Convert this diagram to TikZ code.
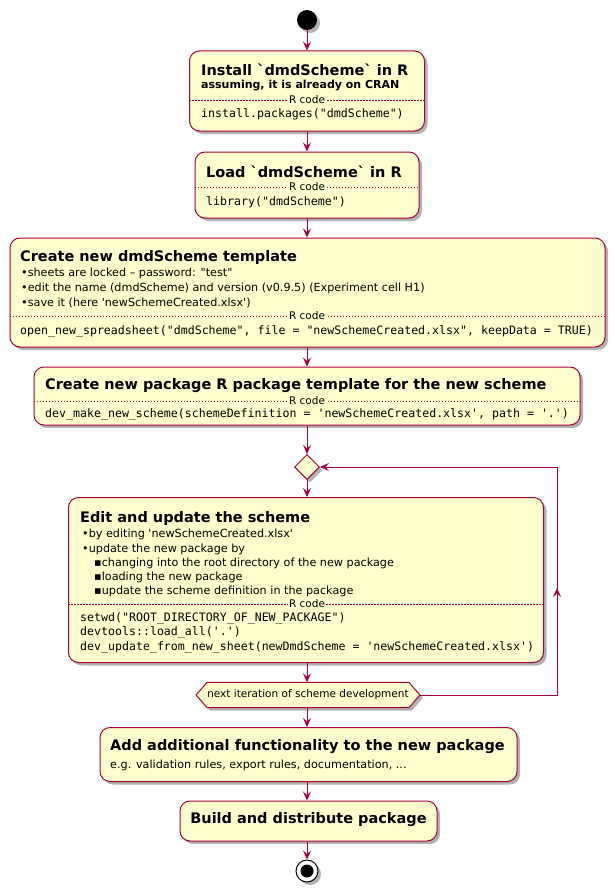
\documentclass[tikz,border=0pt]{standalone}
\usepackage{fontspec}
\setmainfont{DejaVu Sans}[Ligatures=TeXOff]
\setmonofont{DejaVu Sans Mono}
\usetikzlibrary{arrows.meta,shapes.geometric,shadows,calc}
\definecolor{pborder}{HTML}{A80036}
\definecolor{pfill}{HTML}{FEFECE}
\newcommand\ttlf{\fontsize{14.5}{16}\selectfont\bfseries}
\newcommand\subf{\fontsize{11}{13}\selectfont\bfseries}
\newcommand\bodyf{\fontsize{11.2}{13}\selectfont}
\newcommand\smallf{\fontsize{10.5}{12}\selectfont}
\newcommand\codef{\fontsize{11.6}{13}\selectfont\ttfamily}
\begin{document}
\begin{tikzpicture}[x=1pt,y=-1pt,
  shd/.style={drop shadow={shadow xshift=3pt,shadow yshift=-3pt,opacity=0.3,fill=black}},
  actbox/.style={draw=pborder,fill=pfill,line width=1pt,rounded corners=10pt,shd,inner sep=0pt},
  txt/.style={anchor=west,inner sep=0pt,text=black},
  sep/.style={draw=pborder,line width=0.5pt,dash pattern=on 1.5pt off 1.5pt},
  rlab/.style={fill=pfill,inner sep=1pt,font=\smallf},
  arr/.style={draw=pborder,line width=1pt,-{Stealth[length=9pt,width=8pt,inset=3.5pt]}},
  ln/.style={draw=pborder,line width=1pt}
]
\useasboundingbox (0,0) rectangle (615,891);
% start
\node[circle,fill=black,minimum size=20pt,inner sep=0pt,shd] (start) at (307,20) {};
% box 1
\node[actbox,minimum width=235pt,minimum height=80pt] (b1) at (307,91) {};
\node[txt] (t1) at (201,70) {\ttlf Install `dmdScheme` in R};
\node[txt] (s1) at (201,86) {\subf assuming, it is already on CRAN};
\draw[sep] (b1.west |- 0,100) -- (b1.east |- 0,100);
\node[rlab] (r1) at (307,100) {R code};
\node[txt] (c1) at (201,114) {\codef install.packages("dmdScheme")};
% box 2
\node[actbox,minimum width=224pt,minimum height=66pt] (b2) at (307,185) {};
\node[txt] (t2) at (206,172) {\ttlf Load `dmdScheme` in R};
\draw[sep] (b2.west |- 0,187) -- (b2.east |- 0,187);
\node[rlab] (r2) at (307,187) {R code};
\node[txt] (c2) at (206,202) {\codef library("dmdScheme")};
% box 3
\node[actbox,minimum width=595pt,minimum height=109pt] (b3) at (307.5,292.5) {};
\node[txt] (t3) at (20,257) {\ttlf Create new dmdScheme template};
\node[txt] (u31) at (21,273) {\bodyf •sheets are locked – password: "test"};
\node[txt] (u32) at (21,288) {\bodyf •edit the name (dmdScheme) and version (v0.9.5) (Experiment cell H1)};
\node[txt] (u33) at (21,303) {\bodyf •save it (here 'newSchemeCreated.xlsx')};
\draw[sep] (b3.west |- 0,316) -- (b3.east |- 0,316);
\node[rlab] (r3) at (307,316) {R code};
\node[txt] (c3) at (20,331) {\codef open\_new\_spreadsheet("dmdScheme", file = "newSchemeCreated.xlsx", keepData = TRUE)};
% box 4
\node[actbox,minimum width=546pt,minimum height=58pt] (b4) at (307,396) {};
\node[txt] (t4) at (45,386) {\ttlf Create new package R package template for the new scheme};
\draw[sep] (b4.west |- 0,401) -- (b4.east |- 0,401);
\node[rlab] (r4) at (307,401) {R code};
\node[txt] (c4) at (45,414) {\codef dev\_make\_new\_scheme(schemeDefinition = 'newSchemeCreated.xlsx', path = '.')};
% diamond
\node[diamond,draw=pborder,fill=pfill,line width=1pt,minimum size=25pt,inner sep=0pt,shd] (d) at (307,467) {};
% box 5
\node[actbox,minimum width=475pt,minimum height=165pt] (b5) at (306,580) {};
\node[txt] (t5) at (80,518) {\ttlf Edit and update the scheme};
\node[txt] (u51) at (82,534) {\bodyf •by editing 'newSchemeCreated.xlsx'};
\node[txt] (u52) at (82,549) {\bodyf •update the new package by};
\node[txt] (u53) at (94,563) {\bodyf ▪changing into the root directory of the new package};
\node[txt] (u54) at (94,577) {\bodyf ▪loading the new package};
\node[txt] (u55) at (94,591) {\bodyf ▪update the scheme definition in the package};
\draw[sep] (b5.west |- 0,604) -- (b5.east |- 0,604);
\node[rlab] (r5) at (307,604) {R code};
\node[txt] (c51) at (80,618) {\codef setwd("ROOT\_DIRECTORY\_OF\_NEW\_PACKAGE")};
\node[txt] (c52) at (80,632) {\codef devtools::load\_all('.')};
\node[txt] (c53) at (80,647) {\codef dev\_update\_from\_new\_sheet(newDmdScheme = 'newSchemeCreated.xlsx')};
% hexagon
\node[inner sep=0pt,minimum width=200pt,minimum height=25pt,font=\smallf] (h) at (308,695) {next iteration of scheme development};
\path[draw=pborder,fill=pfill,line width=1pt,shd] (h.north west) -- (h.north east) -- ($(h.east)+(11,0)$) -- (h.south east) -- (h.south west) -- ($(h.west)+(-11,0)$) -- cycle;
\node[inner sep=0pt,font=\smallf] at (h.center) {next iteration of scheme development};
% box 6
\node[actbox,minimum width=417pt,minimum height=54pt] (b6) at (308.5,754.5) {};
\node[txt] (t6) at (110,747) {\ttlf Add additional functionality to the new package};
\node[txt] (s6) at (110,765) {\bodyf e.g. validation rules, export rules, documentation, ...};
% box 7
\node[actbox,minimum width=257pt,minimum height=40pt] (b7) at (308.5,821) {};
\node[txt,anchor=center] (t7) at (308.5,820) {\ttlf Build and distribute package};
% end
\node[circle,draw=black,fill=white,line width=1pt,minimum size=22pt,inner sep=0pt,shd] (stop) at (307,871) {};
\node[circle,fill=black,minimum size=13pt,inner sep=0pt] (stopin) at (stop.center) {};
% connectors
\draw[arr] (start) -- (start |- b1.north);
\draw[arr] (b1.south -| start) -- (start |- b2.north);
\draw[arr] (b2.south -| start) -- (start |- b3.north);
\draw[arr] (b3.south -| start) -- (start |- b4.north);
\draw[arr] (b4.south -| start) -- (d.north);
\draw[arr] (d.south) -- (start |- b5.north);
\draw[arr] (b5.south -| start) -- (start |- h.north);
\draw[arr] (start |- h.south) -- (start |- b6.north);
\draw[arr] (b6.south -| start) -- (start |- b7.north);
\draw[arr] (b7.south -| start) -- (stop.north);
% loop
\coordinate (lp1) at (557,695);
\coordinate (lp2) at (557,467);
\coordinate (lpm) at (557,588);
\draw[ln] ($(h.east)+(11,0)$) -- (lp1) -- (lp2);
\draw[arr] (lp1) -- (lpm);
\draw[arr] (lp2) -- (d.east);
\end{tikzpicture}
\end{document}
